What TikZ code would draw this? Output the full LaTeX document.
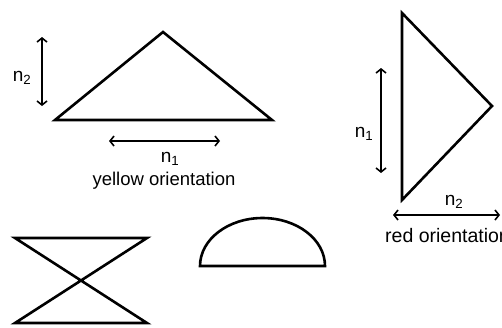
\documentclass[tikz,border=0pt]{standalone}
\usepackage{fontspec}
\setmainfont{Liberation Sans}
\usetikzlibrary{arrows.meta}
\begin{document}
\begin{tikzpicture}[x=1pt,y=-1pt,
  outl/.style={line width=2.6pt,line join=miter},
  dim/.style={line width=1.6pt,{Straight Barb[length=4pt,width=10pt]}-{Straight Barb[length=4pt,width=10pt]}},
  lbl/.style={inner sep=0pt,font=\fontsize{18.5}{21}\selectfont},
  nl/.style={inner sep=0pt,font=\fontsize{19}{22}\selectfont}]
\useasboundingbox (0,0) rectangle (502,327);
\clip (0,0) rectangle (502,327);
% yellow triangle
\coordinate (yl) at (55,120);
\coordinate (ya) at (163,32);
\coordinate (yr) at (272,120);
\draw[outl] (yl) -- (ya) -- (yr) -- cycle;
\coordinate (v1) at (42,37);
\coordinate (v2) at (42,106);
\draw[dim] (v1) -- (v2);
\node[nl] (n2a) at (22,78) {n\textsubscript{2}};
\coordinate (h1) at (109,141);
\coordinate (h2) at (220,141);
\draw[dim] (h1) -- (h2);
\node[nl] (n1a) at (170,159) {n\textsubscript{1}};
\node[lbl] (yo) at (164,181) {yellow orientation};
% red triangle
\coordinate (rt) at (402,13);
\coordinate (rb) at (402,200);
\coordinate (rr) at (492,106);
\draw[outl] (rt) -- (rr) -- (rb) -- cycle;
\coordinate (w1) at (381,68);
\coordinate (w2) at (381,173);
\draw[dim] (w1) -- (w2);
\node[nl] (n1b) at (364,134) {n\textsubscript{1}};
\coordinate (g1) at (393,215);
\coordinate (g2) at (500,215);
\draw[dim] (g1) -- (g2);
\node[nl] (n2b) at (454,202) {n\textsubscript{2}};
\node[lbl,anchor=west,font=\fontsize{19.5}{22}\selectfont] (ro) at (385,236) {red orientation};
% hourglass
\coordinate (a) at (15,238);
\coordinate (b) at (147,238);
\coordinate (c) at (15,323);
\coordinate (d) at (147,323);
\draw[outl] (a) -- (b) -- (c) -- (d) -- cycle;
% half ellipse
\coordinate (s1) at (200,266);
\coordinate (s2) at (325,266);
\draw[outl] (s1) arc[start angle=180,end angle=0,x radius=62.5pt,y radius=48pt] -- (s1) -- cycle;
\end{tikzpicture}
\end{document}
